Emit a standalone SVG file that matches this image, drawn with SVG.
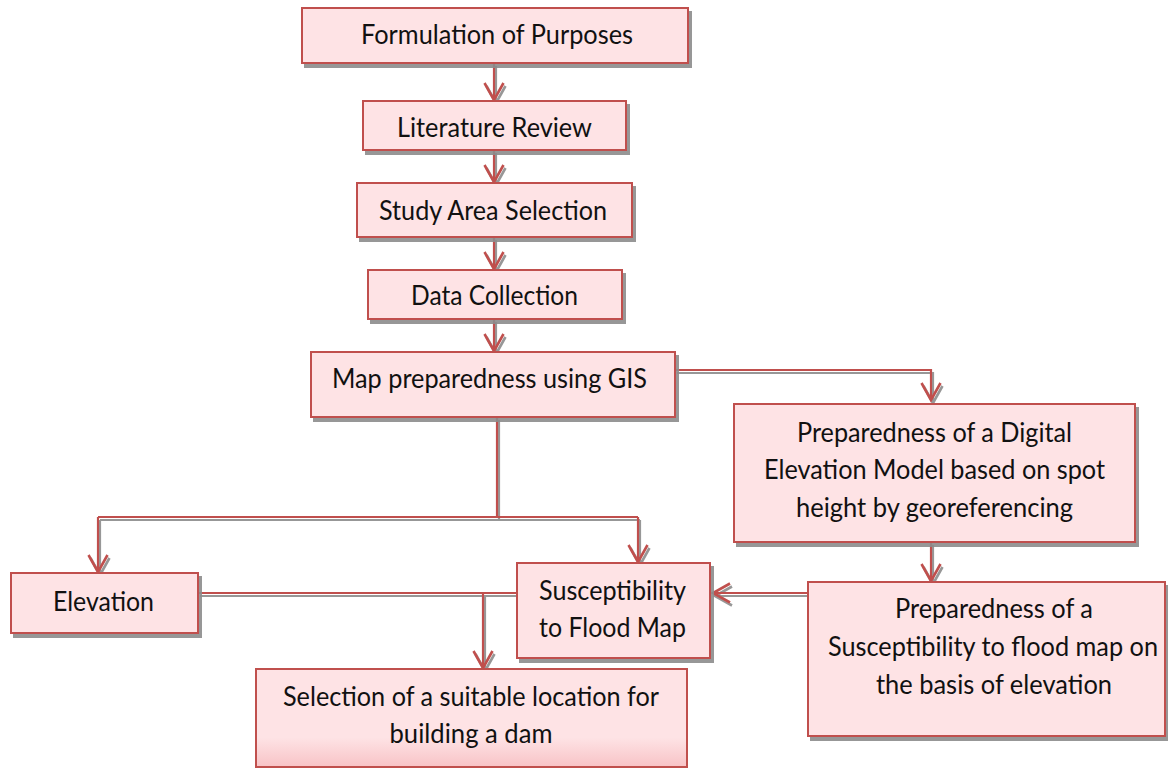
<svg xmlns="http://www.w3.org/2000/svg" width="1168" height="769" viewBox="0 0 1168 769">
<defs>
<filter id="boxShadow" x="-5%" y="-5%" width="115%" height="125%">
<feDropShadow dx="3" dy="4" stdDeviation="0.6" flood-color="#8c8c8c" flood-opacity="0.9"/>
</filter>
<filter id="lineShadow" x="-5%" y="-5%" width="115%" height="115%">
<feDropShadow dx="2" dy="3" stdDeviation="0.5" flood-color="#8c8c8c" flood-opacity="0.9"/>
</filter>
<linearGradient id="selGrad" x1="0" y1="0" x2="0" y2="1">
<stop offset="0" stop-color="#fee3e5"/>
<stop offset="0.7" stop-color="#fee3e5"/>
<stop offset="1" stop-color="#f8c3c6"/>
</linearGradient>
<marker id="arr" markerWidth="22" markerHeight="24" viewBox="-19 -12 22 24" refX="0" refY="0" orient="auto" markerUnits="userSpaceOnUse">
<path d="M-17,-9.5 L0,0 L-17,9.5" fill="none" stroke="#c0504d" stroke-width="2.6"/>
</marker>
</defs>
<style>
.box{fill:#fee3e5;stroke:#c0504d;stroke-width:2;}
.t{font-family:Lato,"Liberation Sans",sans-serif;font-size:26px;fill:#111;text-anchor:middle;}
.c{fill:none;stroke:#c0504d;stroke-width:2.2;}
.ca{fill:none;stroke:#c0504d;stroke-width:2.2;marker-end:url(#arr);}
</style>
<rect width="1168" height="769" fill="#ffffff"/>

<g id="connectors" filter="url(#lineShadow)">
<path class="ca" d="M494,63 L494,100"/>
<path class="ca" d="M494,150 L494,182"/>
<path class="ca" d="M494,237 L494,269"/>
<path class="ca" d="M494,319 L494,351"/>
<path class="ca" d="M675,370 L931,370 L931,400"/>
<path class="c" d="M497,417 L497,517"/>
<path class="c" d="M98,517 L638,517"/>
<path class="ca" d="M98,517 L98,572"/>
<path class="ca" d="M638,517 L638,562"/>
<path class="ca" d="M931,542 L931,581"/>
<path class="ca" d="M808,593 L713,593"/>
<path class="c" d="M198,593 L517,593"/>
<path class="ca" d="M483,593 L483,668"/>
</g>

<g id="formulation">
<rect class="box" filter="url(#boxShadow)" x="302" y="8" width="386" height="55"/>
<text class="t" x="497" y="44" textLength="272" lengthAdjust="spacingAndGlyphs">Formulation of Purposes</text>
</g>
<g id="literature">
<rect class="box" filter="url(#boxShadow)" x="363" y="101" width="263" height="49"/>
<text class="t" x="494.5" y="137" textLength="195" lengthAdjust="spacingAndGlyphs">Literature Review</text>
</g>
<g id="study-area">
<rect class="box" filter="url(#boxShadow)" x="357" y="183" width="275" height="54"/>
<text class="t" x="493" y="220" textLength="228" lengthAdjust="spacingAndGlyphs">Study Area Selection</text>
</g>
<g id="data-collection">
<rect class="box" filter="url(#boxShadow)" x="368" y="270" width="254" height="49"/>
<text class="t" x="494.5" y="305" textLength="167" lengthAdjust="spacingAndGlyphs">Data Collection</text>
</g>
<g id="map-gis">
<rect class="box" filter="url(#boxShadow)" x="311" y="352" width="364" height="65"/>
<text class="t" x="489.5" y="388" textLength="315" lengthAdjust="spacingAndGlyphs">Map preparedness using GIS</text>
</g>
<g id="dem">
<rect class="box" filter="url(#boxShadow)" x="734" y="404" width="401" height="138"/>
<text class="t" x="934.5" y="442" textLength="275" lengthAdjust="spacingAndGlyphs">Preparedness of a Digital</text>
<text class="t" x="934.5" y="479" textLength="341" lengthAdjust="spacingAndGlyphs">Elevation Model based on spot</text>
<text class="t" x="934.5" y="517" textLength="277" lengthAdjust="spacingAndGlyphs">height by georeferencing</text>
</g>
<g id="elevation">
<rect class="box" filter="url(#boxShadow)" x="11" y="573" width="187" height="60"/>
<text class="t" x="103.5" y="611" textLength="101" lengthAdjust="spacingAndGlyphs">Elevation</text>
</g>
<g id="susceptibility">
<rect class="box" filter="url(#boxShadow)" x="517" y="563" width="193" height="95"/>
<text class="t" x="612.5" y="600" textLength="147" lengthAdjust="spacingAndGlyphs">Susceptibility</text>
<text class="t" x="612.5" y="637" textLength="147" lengthAdjust="spacingAndGlyphs">to Flood Map</text>
</g>
<g id="prep-susceptibility">
<rect class="box" filter="url(#boxShadow)" x="808" y="582" width="357" height="154"/>
<text class="t" x="994" y="618" textLength="198" lengthAdjust="spacingAndGlyphs">Preparedness of a</text>
<text class="t" x="993" y="656" textLength="330" lengthAdjust="spacingAndGlyphs">Susceptibility to flood map on</text>
<text class="t" x="994" y="694" textLength="236" lengthAdjust="spacingAndGlyphs">the basis of elevation</text>
</g>
<g id="selection">
<rect class="box" style="fill:url(#selGrad)" x="256" y="669" width="431" height="98"/>
<text class="t" x="471" y="706" textLength="376" lengthAdjust="spacingAndGlyphs">Selection of a suitable location for</text>
<text class="t" x="471" y="743" textLength="163" lengthAdjust="spacingAndGlyphs">building a dam</text>
</g>
</svg>
